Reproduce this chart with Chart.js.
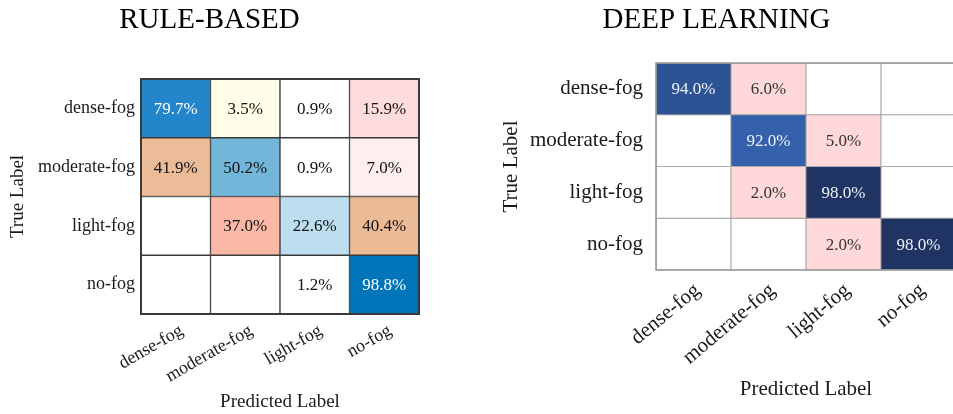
<!DOCTYPE html>
<html>
<head>
<meta charset="utf-8">
<title>Fog classification confusion matrices</title>
<script src="https://cdn.jsdelivr.net/npm/chart.js@4.4.1/dist/chart.umd.min.js"></script>
<style>
  html, body { margin: 0; padding: 0; background: #ffffff; overflow: hidden; width: 953px; height: 414px; }
  canvas { position: absolute; top: 0; }
  #ruleChart { left: 0; }
  #deepChart { left: 477px; }
</style>
</head>
<body>
<canvas id="ruleChart" width="476" height="414"></canvas>
<canvas id="deepChart" width="600" height="414"></canvas>
<script>
// Class names (rows = true label, columns = predicted label)
const trueLabels = ['dense-fog', 'moderate-fog', 'light-fog', 'no-fog'];
const predictedLabels = ['dense-fog', 'moderate-fog', 'light-fog', 'no-fog'];

// Rule-based classifier, row-normalised percentages (null = empty cell)
const ruleDenseFog    = [79.7, 3.5, 0.9, 15.9];
const ruleModerateFog = [41.9, 50.2, 0.9, 7.0];
const ruleLightFog    = [null, 37.0, 22.6, 40.4];
const ruleNoFog       = [null, null, 1.2, 98.8];

// Deep-learning classifier, row-normalised percentages
const deepDenseFog    = [94.0, 6.0, null, null];
const deepModerateFog = [null, 92.0, 5.0, null];
const deepLightFog    = [null, 2.0, 98.0, null];
const deepNoFog       = [null, null, 2.0, 98.0];

// Cell fills
const ruleFills = [
  ['#2386cb', '#fefee9', '#ffffff', '#fddcdb'],
  ['#ebbc97', '#72b6da', '#ffffff', '#ffeeee'],
  ['#ffffff', '#fbb8a6', '#bddeee', '#ebbb96'],
  ['#ffffff', '#ffffff', '#ffffff', '#0075b9']
];
const deepFills = [
  ['#2e5394', '#ffd9d9', '#ffffff', '#ffffff'],
  ['#ffffff', '#3561ac', '#ffd9d9', '#ffffff'],
  ['#ffffff', '#ffd9d9', '#1f3462', '#ffffff'],
  ['#ffffff', '#ffffff', '#ffd9d9', '#1f3462']
];

const SERIF = '"Liberation Serif", "Times New Roman", serif';

function isDark(hex) {
  const n = parseInt(hex.slice(1), 16);
  const r = (n >> 16) & 255, g = (n >> 8) & 255, b = n & 255;
  return (0.299 * r + 0.587 * g + 0.114 * b) < 150;
}

// Writes the percentage in the middle of each filled cell
const cellText = {
  id: 'cellText',
  afterDatasetsDraw(chart, args, opts) {
    const ctx = chart.ctx;
    ctx.save();
    ctx.font = opts.size + 'px ' + SERIF;
    ctx.textAlign = 'center';
    ctx.textBaseline = 'middle';
    chart.data.datasets.forEach((ds, r) => {
      const meta = chart.getDatasetMeta(r);
      meta.data.forEach((bar, c) => {
        const v = ds.values[c];
        if (v == null) return;
        const p = bar.getCenterPoint();
        ctx.fillStyle = isDark(ds.backgroundColor[c]) ? opts.light : opts.dark;
        ctx.fillText(v.toFixed(1) + '%', p.x, p.y + 1);
      });
    });
    ctx.restore();
  }
};

// Outer frame of the matrix
const frame = {
  id: 'frame',
  afterDatasetsDraw(chart, args, opts) {
    const a = chart.chartArea;
    const ctx = chart.ctx;
    ctx.save();
    ctx.strokeStyle = opts.color;
    ctx.lineWidth = opts.width;
    ctx.strokeRect(a.left, a.top, a.right - a.left, a.bottom - a.top);
    ctx.restore();
  }
};

function matrixChart(canvasId, s) {
  const datasets = s.rows.map((vals, r) => ({
    label: trueLabels[r],
    values: vals,
    data: predictedLabels.map(() => [r, r + 1]),
    backgroundColor: s.fills[r],
    borderColor: s.lineColor,
    borderWidth: s.lineWidth,
    borderSkipped: false,
    grouped: false,
    barPercentage: 1,
    categoryPercentage: 1
  }));

  return new Chart(document.getElementById(canvasId), {
    type: 'bar',
    data: { labels: predictedLabels, datasets },
    options: {
      responsive: false,
      animation: false,
      devicePixelRatio: 1,
      layout: { padding: { left: 0, right: s.padRight, top: 0, bottom: 0 } },
      scales: {
        x: {
          type: 'category',
          offset: true,
          grid: { display: false, drawTicks: false },
          border: { display: false },
          ticks: {
            autoSkip: false,
            minRotation: s.rotation,
            maxRotation: s.rotation,
            padding: s.xTickPad,
            labelOffset: s.xLabelShift,
            color: '#1a1a1a',
            font: { family: SERIF, size: s.tickSize }
          },
          title: {
            display: true,
            text: 'Predicted Label',
            color: '#1a1a1a',
            font: { family: SERIF, size: s.axisTitleSize, lineHeight: 1.2 },
            padding: { top: 0, bottom: s.xTitleBottom }
          },
          afterFit: (scale) => { scale.height = s.xHeight; }
        },
        y: {
          type: 'linear',
          min: 0,
          max: trueLabels.length,
          reverse: true,
          grid: { display: false, drawTicks: false },
          border: { display: false },
          afterBuildTicks: (scale) => {
            scale.ticks = trueLabels.map((_, i) => ({ value: i + 0.5 }));
          },
          ticks: {
            padding: s.yTickPad,
            color: '#1a1a1a',
            font: { family: SERIF, size: s.tickSize },
            callback: (value, index) => trueLabels[index]
          },
          title: {
            display: true,
            text: 'True Label',
            color: '#1a1a1a',
            font: { family: SERIF, size: s.axisTitleSize, lineHeight: 1.2 },
            padding: { top: s.yTitleTop, bottom: 0 }
          },
          afterFit: (scale) => { scale.width = s.yWidth; }
        }
      },
      plugins: {
        legend: { display: false },
        tooltip: { enabled: false },
        title: {
          display: true,
          text: s.title,
          color: '#000000',
          font: { family: SERIF, size: 29, weight: 'normal', lineHeight: 1.2 },
          padding: { top: 3, bottom: s.titleGap }
        },
        cellText: { size: 17, light: s.lightText, dark: s.darkText },
        frame: { color: s.lineColor, width: s.frameWidth }
      }
    },
    plugins: [cellText, frame]
  });
}

matrixChart('ruleChart', {
  title: 'RULE-BASED',
  rows: [ruleDenseFog, ruleModerateFog, ruleLightFog, ruleNoFog],
  fills: ruleFills,
  lineColor: '#3a3a3a',
  lineWidth: 1,
  frameWidth: 2,
  lightText: '#ffffff',
  darkText: '#111111',
  tickSize: 18,
  axisTitleSize: 19,
  rotation: 30,
  xTickPad: 6,
  xLabelShift: 6,
  yTickPad: 6,
  xHeight: 100,
  yWidth: 141,
  padRight: 57,
  titleGap: 41.2,
  yTitleTop: 6.6,
  xTitleBottom: 1
});

matrixChart('deepChart', {
  title: 'DEEP LEARNING',
  rows: [deepDenseFog, deepModerateFog, deepLightFog, deepNoFog],
  fills: deepFills,
  lineColor: '#9a9a9a',
  lineWidth: 0.8,
  frameWidth: 1.6,
  lightText: '#eef1f8',
  darkText: '#333333',
  tickSize: 21,
  axisTitleSize: 21,
  rotation: 40,
  xTickPad: 8,
  xLabelShift: 4,
  yTickPad: 13,
  xHeight: 144,
  yWidth: 179,
  padRight: 121,
  titleGap: 25.2,
  yTitleTop: 22,
  xTitleBottom: 12.4
});
</script>
</body>
</html>
